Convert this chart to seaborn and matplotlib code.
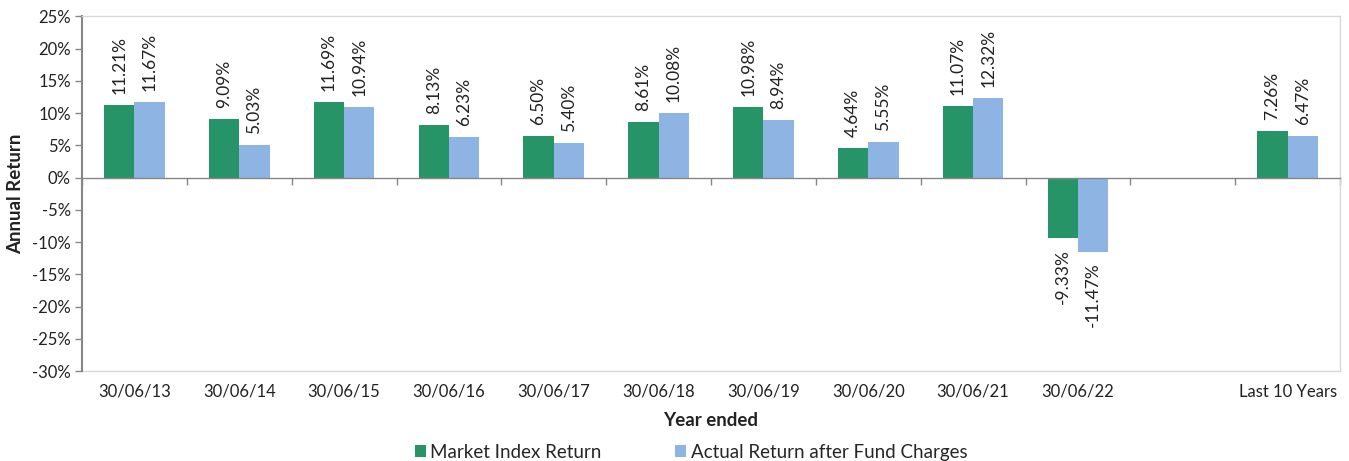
import matplotlib
matplotlib.use("Agg")
import matplotlib.pyplot as plt
import seaborn as sns
import pandas as pd
import numpy as np
from matplotlib.patches import Patch

categories = ["30/06/13", "30/06/14", "30/06/15", "30/06/16", "30/06/17", "30/06/18",
              "30/06/19", "30/06/20", "30/06/21", "30/06/22", "", "Last 10 Years"]
data_categories = ["30/06/13", "30/06/14", "30/06/15", "30/06/16", "30/06/17", "30/06/18",
                   "30/06/19", "30/06/20", "30/06/21", "30/06/22", "Last 10 Years"]
market_index = [11.21, 9.09, 11.69, 8.13, 6.50, 8.61, 10.98, 4.64, 11.07, -9.33, 7.26]
actual_return = [11.67, 5.03, 10.94, 6.23, 5.40, 10.08, 8.94, 5.55, 12.32, -11.47, 6.47]
series_names = ["Market Index Return", "Actual Return after Fund Charges"]
y_ticks = list(range(-30, 30, 5))

colors = ["#279467", "#8eb4e3"]

df = pd.DataFrame({
    "Year": data_categories * 2,
    "Return": market_index + actual_return,
    "Series": [series_names[0]] * len(data_categories) + [series_names[1]] * len(data_categories),
})

sns.set_theme(style="white")
plt.rcParams["font.family"] = ["Lato", "DejaVu Sans"]

fig = plt.figure(figsize=(13.49, 4.61), dpi=100)
ax = fig.add_axes([82 / 1349, 1 - 371 / 461, (1340 - 82) / 1349, (371 - 16.5) / 461])

sns.barplot(data=df, x="Year", y="Return", hue="Series", order=categories,
            hue_order=series_names, palette=colors, width=0.58, gap=0,
            saturation=1, ax=ax, legend=False, linewidth=0)

for cont in ax.containers:
    ax.bar_label(cont, fmt=lambda v: f"{v:.2f}%", rotation=90, padding=8,
                 fontsize=12.5, color="#222222")

ax.set_ylim(-30, 25)
ax.set_xlim(-0.5, len(categories) - 0.5)
ax.set_yticks(y_ticks)
ax.set_yticklabels([f"{t}%" for t in y_ticks], fontsize=12, color="#222222")
ax.tick_params(axis="y", which="major", length=5, width=1, color="#868686", direction="out", pad=3, left=True)

# zero axis with boundary ticks
ax.spines["bottom"].set_position(("data", 0))
ax.spines["bottom"].set_color("#868686")
ax.spines["bottom"].set_linewidth(1.0)
ax.set_xticks(np.arange(len(categories)))
ax.set_xticklabels([])
ax.tick_params(axis="x", which="major", length=0)
ax.set_xticks(np.arange(len(categories) + 1) - 0.5, minor=True)
ax.tick_params(axis="x", which="minor", length=5, width=1, color="#868686", direction="out", bottom=True)

ax.spines["left"].set_color("#868686")
ax.spines["left"].set_linewidth(1.5)
for s in ["top", "right"]:
    ax.spines[s].set_color("#d9d9d9")
    ax.spines[s].set_linewidth(1.0)
ax.set_xlabel("")
ax.set_ylabel("Annual Return", fontsize=13.5, fontweight="bold", color="#222222", labelpad=6)

sec = ax.secondary_xaxis(0.0)
sec.set_xticks(np.arange(len(categories)))
sec.set_xticklabels(categories, fontsize=12, color="#222222")
sec.tick_params(axis="x", length=0, pad=9)
sec.spines["bottom"].set_color("#d9d9d9")
sec.spines["bottom"].set_linewidth(1.0)
sec.set_xlabel("Year ended", fontsize=13.5, fontweight="bold", color="#222222", labelpad=9)

handles = [Patch(facecolor=c, edgecolor="none") for c in colors]
fig.legend(handles, series_names, loc="center", bbox_to_anchor=(691 / 1349, 1 - 452 / 461),
           ncol=2, frameon=False, fontsize=13.5, handlelength=0.6, handleheight=0.6,
           handletextpad=0.25, columnspacing=3.9, borderpad=0)

fig.savefig("out.png", dpi=100)
